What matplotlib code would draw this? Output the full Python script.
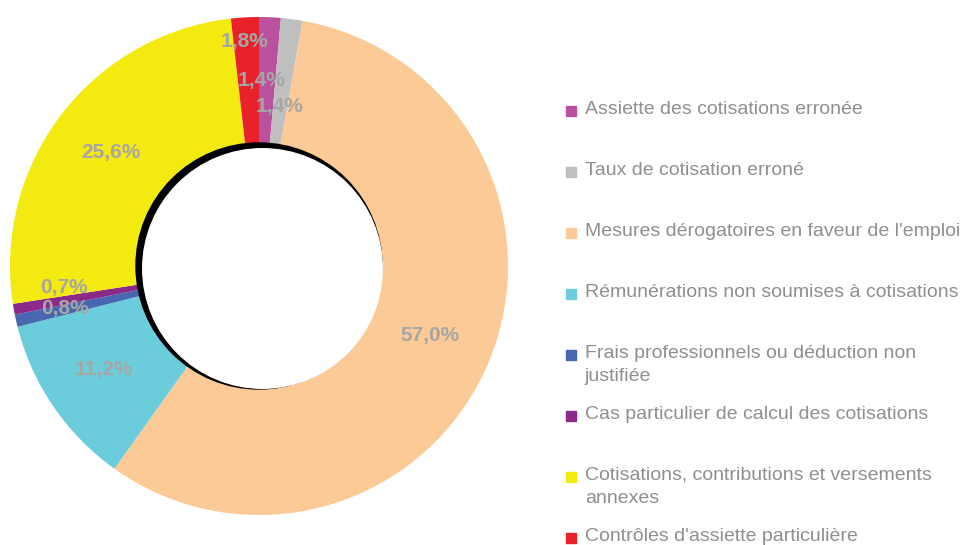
import numpy as np
import matplotlib
matplotlib.use('Agg')
import matplotlib.pyplot as plt
from matplotlib.patches import Circle, Rectangle

plt.rcParams['font.family'] = ['Liberation Sans', 'DejaVu Sans']

# ── Données ────────────────────────────────────────────────────────────────────
categories = [
    "Assiette des cotisations erronée",
    "Taux de cotisation erroné",
    "Mesures dérogatoires en faveur de l'emploi",
    "Rémunérations non soumises à cotisations",
    "Frais professionnels ou déduction non\njustifiée",
    "Cas particulier de calcul des cotisations",
    "Cotisations, contributions et versements\nannexes",
    "Contrôles d'assiette particulière",
]
parts = [1.4, 1.4, 57.0, 11.2, 0.8, 0.7, 25.6, 1.8]
pct_labels = ['1,4%', '1,4%', '57,0%', '11,2%', '0,8%', '0,7%', '25,6%', '1,8%']

colors = ['#B9519E', '#BFBFBF', '#FBCA96', '#6BCCDB', '#4767B1',
          '#8C2A89', '#F3EA0F', '#E8212B']

# position des étiquettes (rayon relatif, décalage d'angle en degrés)
lab_r   = [0.745, 0.645, 0.74, 0.75, 0.80, 0.79, 0.75, 0.905]
lab_da  = [-1.9, -0.2, -0.7, 0.6, 0.3, 3.8, 0.0, -0.4]

# ── Figure ─────────────────────────────────────────────────────────────────────
W, H = 961, 545
fig = plt.figure(figsize=(W / 100, H / 100), dpi=100)
ax = fig.add_axes([10 / W, 30 / H, 498 / W, 498 / H])

r_in = 0.494
wedges, _ = ax.pie(parts, colors=colors, startangle=90, counterclock=False,
                   radius=1.0, wedgeprops=dict(width=1 - r_in, linewidth=0))
ax.set_xlim(-1, 1)
ax.set_ylim(-1, 1)
ax.set_aspect('equal')
ax.axis('off')

# ombre intérieure
ax.add_patch(Circle((0, 0), r_in, color='black', zorder=3))
ax.add_patch(Circle((0.014, -0.01), r_in - 0.013, color='white', zorder=4))

# étiquettes en pourcentage
total = sum(parts)
cum = np.cumsum([0] + parts[:-1])
for i, lab in enumerate(pct_labels):
    mid = (cum[i] + parts[i] / 2) / total * 360 + lab_da[i]
    a = np.deg2rad(90 - mid)
    ax.text(lab_r[i] * np.cos(a), lab_r[i] * np.sin(a), lab,
            ha='center', va='center', fontsize=15, fontweight='bold',
            color='#A6A6A6', zorder=5)

# légende manuelle
y0, dy = 111, 61
for i, (cat, col) in enumerate(zip(categories, colors)):
    yc = y0 + i * dy
    fig.patches.append(Rectangle((566 / W, 1 - (yc + 5) / H), 10 / W, 10 / H,
                                 transform=fig.transFigure, color=col))
    fig.text(585 / W, 1 - (yc - 10) / H, cat, ha='left', va='top',
             fontsize=14, color='#8F8F8F', linespacing=1.45)

fig.savefig('out.png', dpi=100)
